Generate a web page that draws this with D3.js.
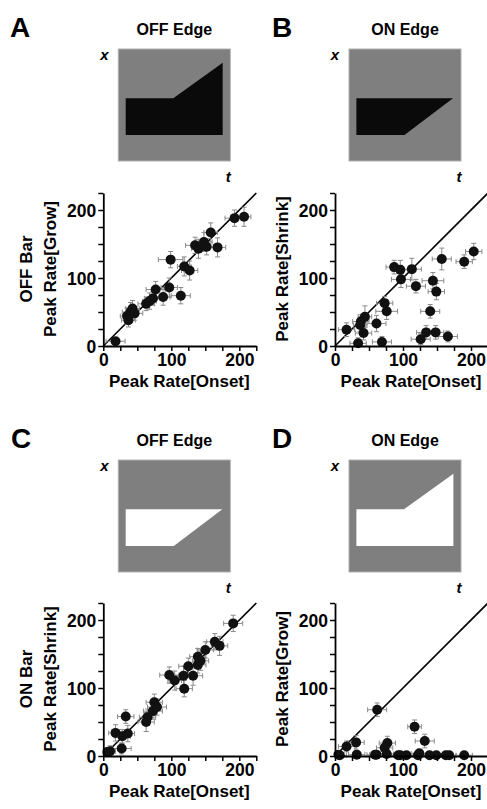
<!DOCTYPE html>
<html><head><meta charset="utf-8">
<script src="https://cdn.jsdelivr.net/npm/d3@7"></script>
<style>
body{margin:0;background:#fff;}
svg text{font-family:"Liberation Sans",Arial,Helvetica,sans-serif;font-weight:bold;}
</style></head>
<body><svg id="c" width="487" height="809"></svg>
<script>
// [onset, other, xerr, yerr]
const dataA = [[18,7,14,5],[35,44,10,12],[37,38,10,10],[40,50,12,14],[43,55,10,12],[46,48,12,10],
 [63,62,12,10],[68,66,10,12],[73,70,12,10],[77,83,14,12],[88,72,10,12],[97,86,12,14],[99,127,18,12],
 [114,74,14,12],[119,117,10,14],[127,111,12,14],[135,148,14,12],[140,143,10,14],[148,153,12,14],
 [152,146,10,12],[158,167,10,14],[168,145,12,14],[193,188,14,12],[207,190,10,14]];
const dataB = [[17,24,12,10],[34,4,12,8],[38,36,12,10],[37,31,10,10],[42,19,12,10],[44,43,10,16],
 [61,33,14,12],[69,6,14,8],[73,63,12,10],[76,51,16,12],[87,116,12,10],[96,112,12,14],[97,98,14,12],
 [113,113,14,16],[119,88,14,10],[126,10,14,8],[134,20,14,10],[140,51,14,10],[144,96,16,12],
 [148,20,12,10],[149,80,12,12],[157,128,14,16],[166,14,14,8],[190,124,12,10],[204,139,12,12]];
const dataC = [[6,6,8,6],[10,7,8,8],[18,34,10,12],[27,11,14,8],[28,29,12,10],[33,58,12,10],[36,33,10,12],
 [63,50,12,14],[65,57,12,12],[73,66,14,12],[75,79,12,12],[79,72,14,12],[97,119,14,12],[105,111,10,14],
 [119,99,12,12],[118,118,14,14],[125,132,14,12],[132,118,14,14],[139,134,12,12],[139,146,12,12],
 [143,140,12,14],[150,156,12,12],[164,168,12,12],[171,162,12,14],[191,195,14,12]];
const dataD = [[5,2,8,4],[7,1,10,4],[17,14,12,8],[31,20,12,10],[32,2,12,4],[59,2,12,4],[61,2,10,4],
 [62,68,14,10],[73,12,12,8],[77,19,12,10],[76,3,10,4],[93,1,10,4],[96,1,10,4],[105,1,10,4],[117,43,10,10],
 [122,1,12,4],[124,4,12,4],[132,22,14,10],[139,1,10,4],[149,1,12,4],[163,1,10,4],[168,1,10,4],[190,1,12,4]];
const tickVals = [0,25,50,75,100,125,150,175,200,225];
const tickLabels = ["0","","","","100","","","","200",""];

const svg = d3.select("#c");

function stim(g, bx, by, poly, fill){
  g.append("rect").attr("x",bx).attr("y",by).attr("width",112).attr("height",112)
   .attr("fill","#7f7f7f").attr("stroke","#b0b0b0").attr("stroke-width",1);
  g.append("polygon").attr("points",poly.map(p=>[bx+p[0],by+p[1]].join(",")).join(" "))
   .attr("fill",fill);
}

function panel(opt){
  const g = svg.append("g");
  const x0 = opt.ax, y0 = opt.ay;
  const x = d3.scaleLinear().domain([0,225]).range([x0, x0+153]);
  const y = d3.scaleLinear().domain([0,225]).range([y0, y0-153]);
  g.append("text").attr("x",opt.lx).attr("y",opt.ty+2).attr("font-size",28).text(opt.letter);
  g.append("text").attr("x",opt.bx+56).attr("y",opt.ty).attr("text-anchor","middle").attr("font-size",16).text(opt.title);
  stim(g, opt.bx, opt.ty+14, opt.poly, opt.fill);
  g.append("text").attr("x",opt.bx-14).attr("y",opt.ty+25).attr("text-anchor","middle").attr("font-size",15).attr("font-style","italic").text("x");
  g.append("text").attr("x",opt.bx+110).attr("y",opt.ty+147).attr("text-anchor","middle").attr("font-size",15).attr("font-style","italic").text("t");
  g.append("line").attr("x1",x(0)).attr("y1",y(0)).attr("x2",x(225)).attr("y2",y(225))
   .attr("stroke","#000").attr("stroke-width",1.6);
  const eb = g.append("g").attr("stroke","#8a8a8a").attr("stroke-width",1).attr("fill","none");
  opt.data.forEach(d=>{
    const cx=x(d[0]), cy=y(d[1]);
    const xl=x(Math.max(0,d[0]-d[2])), xr=x(d[0]+d[2]);
    const yt=y(d[1]+d[3]), yb=y(Math.max(0,d[1]-d[3]));
    eb.append("line").attr("x1",xl).attr("x2",xr).attr("y1",cy).attr("y2",cy);
    eb.append("line").attr("x1",xl).attr("x2",xl).attr("y1",cy-2.5).attr("y2",cy+2.5);
    eb.append("line").attr("x1",xr).attr("x2",xr).attr("y1",cy-2.5).attr("y2",cy+2.5);
    eb.append("line").attr("x1",cx).attr("x2",cx).attr("y1",yt).attr("y2",yb);
    eb.append("line").attr("x1",cx-2.5).attr("x2",cx+2.5).attr("y1",yt).attr("y2",yt);
    eb.append("line").attr("x1",cx-2.5).attr("x2",cx+2.5).attr("y1",yb).attr("y2",yb);
  });
  g.append("g").selectAll("circle").data(opt.data).join("circle")
   .attr("cx",d=>x(d[0])).attr("cy",d=>y(d[1])).attr("r",5).attr("fill","#111");
  const fmt = d=>tickLabels[tickVals.indexOf(d)];
  const xa = g.append("g").attr("transform",`translate(0,${y0})`)
    .call(d3.axisBottom(x).tickValues(tickVals).tickFormat(fmt).tickSize(5).tickSizeOuter(0).tickPadding(3));
  const ya = g.append("g").attr("transform",`translate(${x0},0)`)
    .call(d3.axisLeft(y).tickValues(tickVals).tickFormat(fmt).tickSize(5).tickSizeOuter(0).tickPadding(2));
  [xa,ya].forEach(a=>{
    a.select(".domain").attr("stroke","#000").attr("stroke-width",1.8);
    a.selectAll(".tick line").attr("stroke","#000").attr("stroke-width",1.5);
    a.selectAll(".tick text").attr("font-size",17.5).attr("fill","#000")
     .style("font-family",'"Liberation Sans",Arial,sans-serif').style("font-weight","bold");
  });
  ya.selectAll(".tick text").attr("dy","0.36em");
  g.append("text").attr("x",x0+76).attr("y",y0+41).attr("text-anchor","middle").attr("font-size",17).text("Peak Rate[Onset]");
  const cy = y0-77;
  g.append("text").attr("transform",`translate(${x0-47},${cy}) rotate(-90)`).attr("text-anchor","middle").attr("font-size",17).text(opt.ylab);
  if(opt.ylab0) g.append("text").attr("transform",`translate(${x0-71},${cy}) rotate(-90)`).attr("text-anchor","middle").attr("font-size",17).text(opt.ylab0);
}

const polyGrowTop = [[7.4,49.3],[55,49.3],[104.4,13.7],[104.4,86],[7.4,86]];
const polyShrink = [[7.4,49.3],[104,49.3],[55.5,86],[7.4,86]];

panel({letter:"A",lx:10,title:"OFF Edge",ty:35,bx:118.3,poly:polyGrowTop,fill:"#0a0a0a",
  ax:103.3,ay:346,data:dataA,ylab:"Peak Rate[Grow]",ylab0:"OFF Bar"});
panel({letter:"B",lx:272,title:"ON Edge",ty:35,bx:349,poly:polyShrink,fill:"#0a0a0a",
  ax:335,ay:346,data:dataB,ylab:"Peak Rate[Shrink]"});
panel({letter:"C",lx:11,title:"OFF Edge",ty:446,bx:118.3,poly:polyShrink,fill:"#ffffff",
  ax:103.3,ay:756,data:dataC,ylab:"Peak Rate[Shrink]",ylab0:"ON Bar"});
panel({letter:"D",lx:272,title:"ON Edge",ty:446,bx:349,poly:polyGrowTop,fill:"#ffffff",
  ax:335,ay:756,data:dataD,ylab:"Peak Rate[Grow]"});
</script></body></html>
